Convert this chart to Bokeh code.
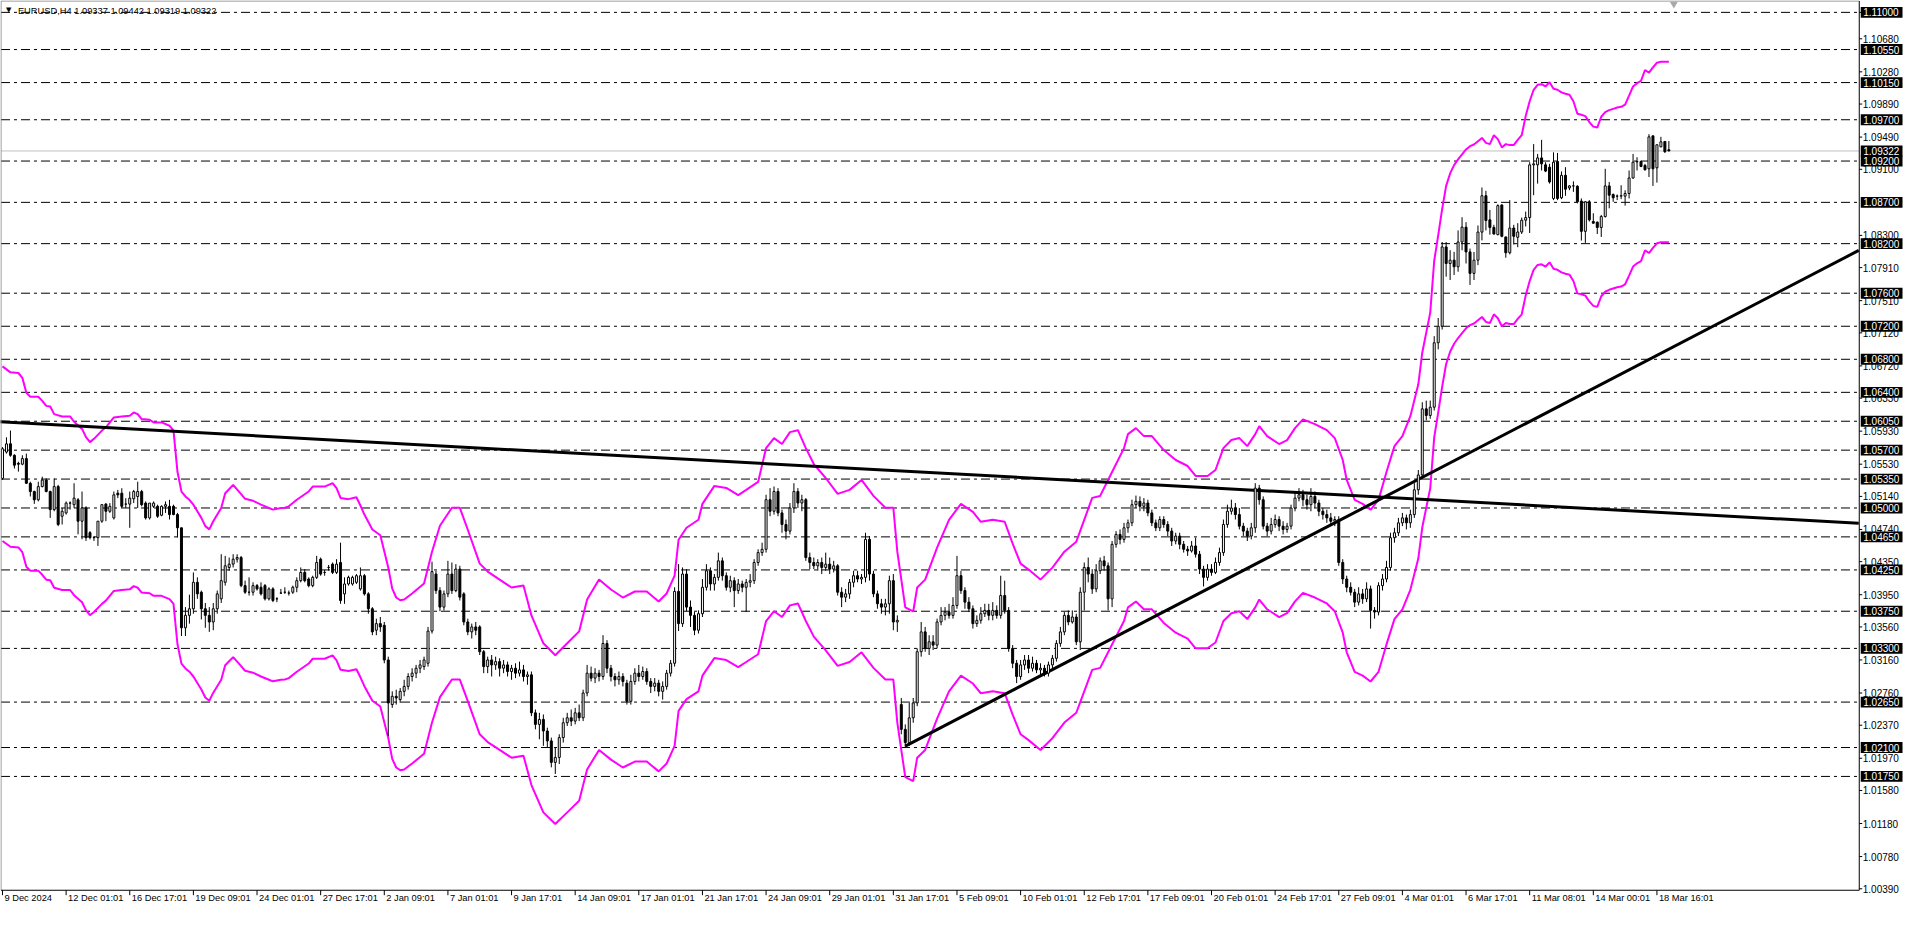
import sys
from bokeh.plotting import figure
from bokeh.models import Range1d, ColumnDataSource
from bokeh.embed import file_html
from bokeh.resources import INLINE
from bokeh.core.properties import value

# ---------------- data (EURUSD H4, one value per bar) ----------------
opens = [
    1.05358, 1.05677, 1.05777, 1.05638, 1.05540, 1.05530, 1.05598, 1.05299, 1.05199, 1.05099,
    1.05259, 1.05338, 1.05199, 1.04980, 1.05259, 1.04900, 1.04940, 1.05059, 1.05040, 1.05099,
    1.04840, 1.05000, 1.04701, 1.04641, 1.04641, 1.04840, 1.05047, 1.04960, 1.04880, 1.05179,
    1.05179, 1.05047, 1.05047, 1.05111, 1.05139, 1.05199, 1.05059, 1.04880, 1.05020, 1.05020,
    1.04912, 1.05020, 1.05020, 1.05020, 1.04920, 1.04760, 1.03550, 1.03700, 1.03780, 1.04100,
    1.03980, 1.03780, 1.03700, 1.03620, 1.03780, 1.03900, 1.04100, 1.04280, 1.04320, 1.04380,
    1.04400, 1.04060, 1.03980, 1.03980, 1.04060, 1.04040, 1.04060, 1.03900, 1.04020, 1.03900,
    1.03970, 1.03980, 1.03970, 1.03980, 1.04040, 1.04120, 1.04220, 1.04140, 1.04060, 1.04160,
    1.04380, 1.04220, 1.04280, 1.04320, 1.04220, 1.04340, 1.03960, 1.04080, 1.04080, 1.04100,
    1.04020, 1.04180, 1.03960, 1.03780, 1.03520, 1.03600, 1.03580, 1.03160, 1.02620, 1.02720,
    1.02680, 1.02780, 1.02840, 1.02960, 1.03000, 1.03060, 1.03080, 1.03120, 1.03510, 1.04200,
    1.04000, 1.03800, 1.03960, 1.04200, 1.04000, 1.04260, 1.03960, 1.03620, 1.03500, 1.03560,
    1.03560, 1.03260, 1.03080, 1.03160, 1.03100, 1.03140, 1.03060, 1.03100, 1.03020, 1.03060,
    1.03000, 1.03040, 1.02960, 1.02980, 1.02520, 1.02380, 1.02440, 1.02300, 1.02180, 1.01920,
    1.01980, 1.02220, 1.02400, 1.02460, 1.02420, 1.02520, 1.02460, 1.02760, 1.03000, 1.02940,
    1.03000, 1.02960, 1.03360, 1.03060, 1.02960, 1.02920, 1.02960, 1.02880, 1.02660, 1.02900,
    1.03000, 1.02960, 1.03020, 1.02900, 1.02840, 1.02880, 1.02780, 1.02840, 1.03000, 1.03120,
    1.03990, 1.03600, 1.04200, 1.03800, 1.03700, 1.03520, 1.03720, 1.04040, 1.04240, 1.04080,
    1.04160, 1.04360, 1.04180, 1.04040, 1.04120, 1.04000, 1.04080, 1.04040, 1.04100, 1.04120,
    1.04340, 1.04460, 1.04500, 1.05100, 1.04960, 1.05200, 1.04940, 1.04800, 1.04720, 1.05000,
    1.05200, 1.05060, 1.05100, 1.04400, 1.04340, 1.04300, 1.04340, 1.04280, 1.04320, 1.04260,
    1.04300, 1.03980, 1.03920, 1.03960, 1.04100, 1.04180, 1.04140, 1.04160, 1.04620, 1.04200,
    1.03960, 1.03840, 1.03800, 1.03840, 1.04120, 1.03620, 1.02620, 1.02320, 1.02160, 1.02460,
    1.02640, 1.03260, 1.03500, 1.03300, 1.03380, 1.03340, 1.03620, 1.03700, 1.03740, 1.03700,
    1.03820, 1.04180, 1.04000, 1.03860, 1.03780, 1.03600, 1.03640, 1.03720, 1.03760, 1.03700,
    1.03760, 1.03700, 1.03940, 1.03760, 1.03300, 1.03120, 1.02960, 1.03100, 1.03160, 1.03060,
    1.03120, 1.03040, 1.03060, 1.03000, 1.03100, 1.03180, 1.03360, 1.03500, 1.03700, 1.03620,
    1.03680, 1.03380, 1.03980, 1.04280, 1.04200, 1.04020, 1.04240, 1.04360, 1.04300, 1.03900,
    1.04560, 1.04680, 1.04620, 1.04760, 1.04820, 1.05040, 1.05080, 1.05020, 1.05060, 1.04940,
    1.04820, 1.04760, 1.04860, 1.04800, 1.04720, 1.04600, 1.04660, 1.04560, 1.04500, 1.04480,
    1.04540, 1.04440, 1.04260, 1.04160, 1.04260, 1.04220, 1.04340, 1.04460, 1.04800, 1.04960,
    1.05000, 1.04920, 1.04780, 1.04720, 1.04660, 1.04760, 1.05240, 1.05100, 1.04780, 1.04720,
    1.04800, 1.04860, 1.04780, 1.04740, 1.04780, 1.05000, 1.05120, 1.05160, 1.05100, 1.05040,
    1.05140, 1.05060, 1.04960, 1.04920, 1.04880, 1.04840, 1.04860, 1.04340, 1.04140, 1.04040,
    1.03980, 1.03860, 1.03960, 1.03900, 1.04020, 1.03760, 1.03740, 1.04060, 1.04140, 1.04280,
    1.04640, 1.04700, 1.04820, 1.04880, 1.04820, 1.04920, 1.05220, 1.05400, 1.06200, 1.06120,
    1.06220, 1.07000, 1.07200, 1.08160, 1.07960, 1.08000, 1.07920, 1.08220, 1.08400, 1.08100,
    1.07840, 1.08000, 1.08340, 1.08780,
    1.08488, 1.08396, 1.08309, 1.08668, 1.08281, 1.08090, 1.08388, 1.08277, 1.08341, 1.08484,
    1.08516, 1.09154, 1.09154, 1.09238, 1.09154, 1.09126, 1.08747, 1.09194, 1.08755, 1.09027,
    1.08875, 1.08899, 1.08895, 1.08715, 1.08349, 1.08707, 1.08468, 1.08460, 1.08396, 1.08528,
    1.08899, 1.08795, 1.08775, 1.08775, 1.08775, 1.08807, 1.08995, 1.09190, 1.09194, 1.09146,
    1.09106, 1.09505, 1.09118, 1.09373, 1.09437, 1.09337]
highs = [
    1.05737, 1.05856, 1.05937, 1.05650, 1.05560, 1.05638, 1.05658, 1.05318, 1.05210, 1.05318,
    1.05379, 1.05358, 1.05210, 1.05358, 1.05280, 1.05000, 1.05079, 1.05079, 1.05299, 1.05119,
    1.05199, 1.05020, 1.04720, 1.04661, 1.04840, 1.05040, 1.05059, 1.05059, 1.05199, 1.05219,
    1.05239, 1.05119, 1.05199, 1.05219, 1.05318, 1.05219, 1.05079, 1.05059, 1.05079, 1.05040,
    1.05032, 1.05079, 1.05099, 1.05040, 1.04940, 1.04760, 1.03800, 1.03950, 1.04220, 1.04160,
    1.04000, 1.03850, 1.03800, 1.03850, 1.04000, 1.04440, 1.04420, 1.04400, 1.04440, 1.04440,
    1.04420, 1.04120, 1.04160, 1.04100, 1.04080, 1.04100, 1.04080, 1.04040, 1.04040, 1.03920,
    1.04020, 1.04040, 1.04000, 1.04060, 1.04160, 1.04280, 1.04260, 1.04160, 1.04180, 1.04420,
    1.04400, 1.04250, 1.04310, 1.04340, 1.04380, 1.04580, 1.04160, 1.04180, 1.04180, 1.04200,
    1.04280, 1.04200, 1.03980, 1.03800, 1.03660, 1.03680, 1.03620, 1.03200, 1.02780, 1.02800,
    1.02820, 1.02920, 1.03000, 1.03060, 1.03100, 1.03160, 1.03200, 1.03560, 1.04350, 1.04240,
    1.04040, 1.04000, 1.04360, 1.04340, 1.04320, 1.04300, 1.03980, 1.03660, 1.03600, 1.03620,
    1.03580, 1.03280, 1.03200, 1.03220, 1.03200, 1.03180, 1.03160, 1.03140, 1.03100, 1.03120,
    1.03140, 1.03100, 1.03020, 1.03020, 1.02560, 1.02520, 1.02500, 1.02340, 1.02220, 1.02100,
    1.02260, 1.02460, 1.02520, 1.02560, 1.02580, 1.02620, 1.02800, 1.03100, 1.03080, 1.03060,
    1.03040, 1.03460, 1.03400, 1.03100, 1.03000, 1.03020, 1.03000, 1.02920, 1.02980, 1.03060,
    1.03100, 1.03080, 1.03060, 1.02940, 1.02940, 1.02920, 1.02900, 1.03040, 1.03160, 1.04040,
    1.04320, 1.04280, 1.04260, 1.03880, 1.03740, 1.03760, 1.04140, 1.04320, 1.04280, 1.04200,
    1.04460, 1.04400, 1.04220, 1.04180, 1.04160, 1.04140, 1.04120, 1.04140, 1.04200, 1.04380,
    1.04500, 1.04580, 1.05160, 1.05240, 1.05260, 1.05240, 1.04980, 1.04860, 1.05060, 1.05300,
    1.05240, 1.05160, 1.05120, 1.04460, 1.04400, 1.04380, 1.04400, 1.04460, 1.04400, 1.04360,
    1.04320, 1.04040, 1.04020, 1.04140, 1.04240, 1.04240, 1.04200, 1.04700, 1.04660, 1.04240,
    1.04000, 1.03900, 1.03900, 1.04180, 1.04200, 1.03700, 1.02700, 1.02380, 1.02640, 1.02700,
    1.03300, 1.03620, 1.03560, 1.03460, 1.03460, 1.03660, 1.03800, 1.03800, 1.03840, 1.03920,
    1.04420, 1.04240, 1.04040, 1.03920, 1.03820, 1.03700, 1.03800, 1.03840, 1.03840, 1.03860,
    1.03820, 1.04180, 1.04120, 1.03800, 1.03340, 1.03160, 1.03160, 1.03220, 1.03220, 1.03200,
    1.03160, 1.03120, 1.03100, 1.03140, 1.03220, 1.03400, 1.03560, 1.03740, 1.03760, 1.03760,
    1.03720, 1.04040, 1.04340, 1.04400, 1.04260, 1.04320, 1.04400, 1.04420, 1.04340, 1.04600,
    1.04720, 1.04740, 1.04820, 1.04860, 1.05100, 1.05150, 1.05140, 1.05120, 1.05100, 1.04980,
    1.04860, 1.04900, 1.04900, 1.04840, 1.04760, 1.04700, 1.04700, 1.04600, 1.04540, 1.04600,
    1.04640, 1.04480, 1.04300, 1.04320, 1.04320, 1.04400, 1.04520, 1.04860, 1.05040, 1.05100,
    1.05060, 1.05000, 1.04820, 1.04760, 1.04820, 1.05300, 1.05280, 1.05140, 1.04820, 1.04880,
    1.04920, 1.04900, 1.04840, 1.04820, 1.05040, 1.05180, 1.05240, 1.05220, 1.05160, 1.05240,
    1.05200, 1.05100, 1.05000, 1.04980, 1.04940, 1.04900, 1.04900, 1.04380, 1.04180, 1.04100,
    1.04020, 1.04040, 1.04020, 1.04100, 1.04060, 1.03800, 1.04100, 1.04200, 1.04360, 1.04700,
    1.04760, 1.04880, 1.04940, 1.04920, 1.04980, 1.05300, 1.05460, 1.06280, 1.06300, 1.06300,
    1.07080, 1.07300, 1.08220, 1.08220, 1.08120, 1.08100, 1.08360, 1.08520, 1.08460, 1.08140,
    1.08100, 1.08420, 1.08880, 1.08840,
    1.08608, 1.08428, 1.08676, 1.08676, 1.08285, 1.08727, 1.08428, 1.08448, 1.08516, 1.08588,
    1.09186, 1.09405, 1.09286, 1.09457, 1.09186, 1.09166, 1.09306, 1.09298, 1.09074, 1.09126,
    1.08907, 1.08955, 1.08907, 1.08747, 1.08715, 1.08727, 1.08568, 1.08468, 1.08548, 1.09106,
    1.08947, 1.08807, 1.08795, 1.08907, 1.08847, 1.09086, 1.09286, 1.09246, 1.09206, 1.09166,
    1.09525, 1.09505, 1.09397, 1.09493, 1.09437, 1.09442]
lows = [
    1.05340, 1.05658, 1.05620, 1.05478, 1.05440, 1.05518, 1.05290, 1.05139, 1.05050, 1.05080,
    1.05250, 1.05190, 1.04880, 1.04960, 1.04780, 1.04800, 1.04920, 1.04980, 1.05000, 1.04681,
    1.04621, 1.04601, 1.04620, 1.04601, 1.04541, 1.04820, 1.04840, 1.04940, 1.04860, 1.05119,
    1.05000, 1.05000, 1.04760, 1.05059, 1.05000, 1.05020, 1.04860, 1.04860, 1.05000, 1.04880,
    1.04900, 1.04940, 1.04860, 1.04912, 1.04641, 1.03450, 1.03450, 1.03600, 1.03720, 1.03900,
    1.03650, 1.03550, 1.03500, 1.03520, 1.03720, 1.03850, 1.04060, 1.04240, 1.04280, 1.04340,
    1.04040, 1.03960, 1.03940, 1.03940, 1.04000, 1.03940, 1.03880, 1.03880, 1.03860, 1.03860,
    1.03960, 1.03960, 1.03940, 1.03960, 1.03980, 1.04100, 1.04100, 1.04040, 1.04040, 1.04140,
    1.04180, 1.04180, 1.04240, 1.04200, 1.04200, 1.03840, 1.03840, 1.04060, 1.04060, 1.04080,
    1.04000, 1.03940, 1.03720, 1.03460, 1.03460, 1.03500, 1.03120, 1.02240, 1.02580, 1.02620,
    1.02640, 1.02720, 1.02800, 1.02900, 1.02940, 1.03000, 1.03040, 1.03080, 1.03480, 1.03960,
    1.03750, 1.03760, 1.03920, 1.03960, 1.03980, 1.03880, 1.03580, 1.03460, 1.03420, 1.03460,
    1.03220, 1.03000, 1.03000, 1.02960, 1.03040, 1.02960, 1.03000, 1.02960, 1.02920, 1.02940,
    1.02960, 1.02900, 1.02860, 1.02480, 1.02320, 1.02200, 1.02120, 1.02100, 1.01860, 1.01780,
    1.01900, 1.02160, 1.02360, 1.02360, 1.02380, 1.02420, 1.02420, 1.02720, 1.02900, 1.02880,
    1.02900, 1.02920, 1.03000, 1.02900, 1.02840, 1.02860, 1.02840, 1.02620, 1.02620, 1.02860,
    1.02900, 1.02920, 1.02860, 1.02760, 1.02780, 1.02720, 1.02680, 1.02800, 1.02960, 1.03080,
    1.03510, 1.03560, 1.03750, 1.03560, 1.03460, 1.03480, 1.03680, 1.04000, 1.04000, 1.04000,
    1.04120, 1.04120, 1.04000, 1.03980, 1.03800, 1.03960, 1.03980, 1.03740, 1.04040, 1.04080,
    1.04300, 1.04420, 1.04460, 1.04900, 1.04920, 1.04900, 1.04700, 1.04620, 1.04680, 1.04940,
    1.05000, 1.04960, 1.04360, 1.04260, 1.04260, 1.04240, 1.04200, 1.04240, 1.04200, 1.04220,
    1.03940, 1.03800, 1.03860, 1.03900, 1.04040, 1.04100, 1.04080, 1.04100, 1.04120, 1.03920,
    1.03780, 1.03720, 1.03700, 1.03720, 1.03520, 1.03500, 1.02260, 1.02100, 1.02120, 1.02400,
    1.02600, 1.03200, 1.03260, 1.03220, 1.03280, 1.03300, 1.03580, 1.03640, 1.03660, 1.03660,
    1.03780, 1.03960, 1.03780, 1.03740, 1.03540, 1.03560, 1.03600, 1.03680, 1.03640, 1.03640,
    1.03660, 1.03660, 1.03720, 1.03260, 1.03060, 1.02880, 1.02920, 1.03040, 1.03000, 1.03020,
    1.03000, 1.02980, 1.02960, 1.02960, 1.03060, 1.03140, 1.03320, 1.03460, 1.03580, 1.03600,
    1.03340, 1.03280, 1.03760, 1.04100, 1.03960, 1.03980, 1.04200, 1.04240, 1.03760, 1.03800,
    1.04520, 1.04560, 1.04580, 1.04700, 1.04780, 1.05000, 1.04960, 1.04960, 1.04900, 1.04780,
    1.04720, 1.04720, 1.04760, 1.04660, 1.04540, 1.04560, 1.04500, 1.04460, 1.04420, 1.04460,
    1.04400, 1.04200, 1.04050, 1.04120, 1.04180, 1.04200, 1.04300, 1.04420, 1.04760, 1.04920,
    1.04860, 1.04740, 1.04660, 1.04600, 1.04620, 1.04700, 1.05040, 1.04740, 1.04660, 1.04680,
    1.04760, 1.04720, 1.04680, 1.04700, 1.04740, 1.04960, 1.05080, 1.05020, 1.04980, 1.04960,
    1.05000, 1.04900, 1.04860, 1.04820, 1.04780, 1.04780, 1.04300, 1.04080, 1.03980, 1.03940,
    1.03800, 1.03820, 1.03840, 1.03860, 1.03540, 1.03660, 1.03700, 1.04000, 1.04100, 1.04240,
    1.04580, 1.04660, 1.04780, 1.04740, 1.04760, 1.04880, 1.05160, 1.05360, 1.06060, 1.06080,
    1.06180, 1.06920, 1.07160, 1.07800, 1.07760, 1.07820, 1.07860, 1.08120, 1.07960, 1.07700,
    1.07760, 1.07940, 1.08240, 1.08360,
    1.08309, 1.08309, 1.08301, 1.08277, 1.08030, 1.08070, 1.08189, 1.08157, 1.08317, 1.08408,
    1.08329, 1.08787, 1.08927, 1.09086, 1.09066, 1.08927, 1.08727, 1.08727, 1.08739, 1.08779,
    1.08847, 1.08827, 1.08687, 1.08237, 1.08209, 1.08468, 1.08440, 1.08317, 1.08281, 1.08516,
    1.08628, 1.08707, 1.08727, 1.08739, 1.08660, 1.08747, 1.08987, 1.09086, 1.09126, 1.09086,
    1.09007, 1.08899, 1.08939, 1.09365, 1.09298, 1.09319]
closes = [
    1.05717, 1.05776, 1.05638, 1.05518, 1.05530, 1.05598, 1.05299, 1.05199, 1.05099, 1.05259,
    1.05338, 1.05199, 1.04980, 1.05259, 1.04800, 1.04960, 1.05059, 1.05060, 1.05119, 1.04840,
    1.05000, 1.04641, 1.04641, 1.04641, 1.04840, 1.05040, 1.04960, 1.05020, 1.05159, 1.05159,
    1.05020, 1.05047, 1.05119, 1.05199, 1.05199, 1.05040, 1.04880, 1.05059, 1.05059, 1.04900,
    1.05020, 1.05040, 1.04920, 1.04920, 1.04760, 1.03550, 1.03700, 1.03780, 1.04100, 1.03960,
    1.03780, 1.03700, 1.03620, 1.03780, 1.03960, 1.04120, 1.04300, 1.04320, 1.04380, 1.04400,
    1.04060, 1.03980, 1.03980, 1.04060, 1.04020, 1.03960, 1.03900, 1.04020, 1.03880, 1.03900,
    1.03970, 1.03980, 1.03970, 1.04040, 1.04120, 1.04220, 1.04120, 1.04060, 1.04160, 1.04340,
    1.04200, 1.04220, 1.04280, 1.04220, 1.04320, 1.03880, 1.04080, 1.04160, 1.04160, 1.04180,
    1.04180, 1.03960, 1.03780, 1.03500, 1.03600, 1.03560, 1.03160, 1.02640, 1.02720, 1.02700,
    1.02780, 1.02840, 1.02960, 1.03000, 1.03060, 1.03100, 1.03160, 1.03510, 1.04230, 1.04000,
    1.03800, 1.03960, 1.04200, 1.04000, 1.04260, 1.03920, 1.03620, 1.03500, 1.03560, 1.03520,
    1.03260, 1.03080, 1.03160, 1.03100, 1.03140, 1.03060, 1.03100, 1.03020, 1.03060, 1.03000,
    1.03040, 1.02960, 1.02980, 1.02520, 1.02380, 1.02440, 1.02300, 1.02180, 1.01920, 1.01980,
    1.02220, 1.02400, 1.02460, 1.02420, 1.02520, 1.02460, 1.02760, 1.03000, 1.02940, 1.03000,
    1.02960, 1.03360, 1.03060, 1.02960, 1.02920, 1.02960, 1.02900, 1.02660, 1.02900, 1.03000,
    1.02960, 1.03020, 1.02900, 1.02840, 1.02880, 1.02780, 1.02840, 1.03000, 1.03120, 1.03990,
    1.03600, 1.04200, 1.03800, 1.03700, 1.03520, 1.03720, 1.04040, 1.04240, 1.04080, 1.04160,
    1.04360, 1.04180, 1.04040, 1.04120, 1.04000, 1.04080, 1.04040, 1.04100, 1.04120, 1.04340,
    1.04460, 1.04500, 1.05100, 1.04960, 1.05200, 1.04940, 1.04800, 1.04720, 1.05000, 1.05200,
    1.05060, 1.05100, 1.04400, 1.04340, 1.04300, 1.04340, 1.04280, 1.04320, 1.04260, 1.04300,
    1.03980, 1.03920, 1.03960, 1.04100, 1.04180, 1.04140, 1.04160, 1.04620, 1.04200, 1.03960,
    1.03840, 1.03800, 1.03840, 1.04120, 1.03620, 1.03640, 1.02320, 1.02160, 1.02460, 1.02640,
    1.03260, 1.03500, 1.03300, 1.03380, 1.03340, 1.03620, 1.03700, 1.03740, 1.03700, 1.03820,
    1.04180, 1.04000, 1.03860, 1.03780, 1.03600, 1.03640, 1.03720, 1.03760, 1.03700, 1.03760,
    1.03700, 1.03940, 1.03760, 1.03300, 1.03120, 1.02960, 1.03100, 1.03160, 1.03060, 1.03120,
    1.03040, 1.03060, 1.03000, 1.03100, 1.03180, 1.03360, 1.03500, 1.03700, 1.03620, 1.03680,
    1.03380, 1.03980, 1.04280, 1.04200, 1.04020, 1.04240, 1.04360, 1.04300, 1.03900, 1.04560,
    1.04680, 1.04620, 1.04760, 1.04820, 1.05040, 1.05080, 1.05020, 1.05060, 1.04940, 1.04820,
    1.04760, 1.04860, 1.04800, 1.04720, 1.04600, 1.04660, 1.04560, 1.04500, 1.04480, 1.04540,
    1.04440, 1.04260, 1.04160, 1.04260, 1.04220, 1.04340, 1.04460, 1.04800, 1.04960, 1.05000,
    1.04920, 1.04780, 1.04720, 1.04660, 1.04760, 1.05240, 1.05100, 1.04780, 1.04720, 1.04800,
    1.04860, 1.04780, 1.04740, 1.04780, 1.05000, 1.05120, 1.05160, 1.05100, 1.05040, 1.05140,
    1.05060, 1.04960, 1.04920, 1.04880, 1.04840, 1.04860, 1.04340, 1.04140, 1.04040, 1.03980,
    1.03860, 1.03960, 1.03900, 1.04020, 1.03760, 1.03740, 1.04060, 1.04140, 1.04280, 1.04640,
    1.04700, 1.04820, 1.04880, 1.04820, 1.04920, 1.05220, 1.05400, 1.06200, 1.06120, 1.06220,
    1.07000, 1.07200, 1.08160, 1.07960, 1.08000, 1.07920, 1.08220, 1.08400, 1.08100, 1.07840,
    1.08000, 1.08340, 1.08780, 1.08480,
    1.08396, 1.08317, 1.08660, 1.08289, 1.08090, 1.08388, 1.08289, 1.08341, 1.08484, 1.08516,
    1.09154, 1.09166, 1.09238, 1.09166, 1.09078, 1.08947, 1.09186, 1.08747, 1.09027, 1.08859,
    1.08899, 1.08899, 1.08707, 1.08349, 1.08707, 1.08488, 1.08448, 1.08396, 1.08528, 1.08899,
    1.08787, 1.08755, 1.08775, 1.08780, 1.08807, 1.08995, 1.09186, 1.09194, 1.09134, 1.09094,
    1.09493, 1.09106, 1.09397, 1.09433, 1.09313, 1.09322]

# Envelopes (+/-1 %): upper line read at these bars
env_bars = [0, 2, 4, 5, 6, 7, 9, 10, 11, 12, 13, 15, 17, 18, 20, 21, 22, 23, 25, 26,
            28, 30, 32, 33, 34, 35, 37, 38, 40, 42, 43, 44, 45, 46, 47, 48, 50, 51, 52, 53,
            55, 56, 58, 60, 61, 63, 65, 67, 68, 70, 71, 72, 74, 77, 78, 81, 83, 84, 85, 87,
            89, 90, 91, 93, 95, 97, 98, 99, 100, 101, 103, 106, 108, 110, 113, 115, 117, 120, 122, 125,
            128, 131, 133, 136, 139, 142, 145, 147, 150, 153, 156, 159, 162, 165, 167, 169, 170, 172, 175, 176,
            179, 182, 185, 187, 190, 192, 194, 196, 198, 200, 202, 204, 207, 210, 213, 216, 219, 222, 224, 225,
            227, 229, 230, 232, 235, 238, 241, 244, 246, 249, 252, 254, 256, 258, 261, 264, 267, 270, 272, 274,
            276, 279, 282, 283, 285, 287, 289, 292, 295, 298, 300, 303, 305, 307, 309, 311, 313, 315, 316, 318,
            321, 323, 325, 327, 330, 333, 335, 337, 338, 340, 342, 344, 346, 348, 350, 352, 354, 356, 357, 359,
            360, 361, 362, 363, 364, 365, 366, 367, 368, 369, 370, 371, 372, 373,
            374, 375, 376, 377, 378, 379, 380, 381, 382, 383, 384, 385, 386, 387, 388, 389, 390, 391, 392, 393,
            394, 395, 396, 397, 398, 399, 400, 401, 402, 403, 404, 405, 406, 407, 408, 409, 410, 411, 412, 413,
            414, 415, 416, 417, 418, 419]
env_upper = [1.06714, 1.06642, 1.06634, 1.06575, 1.06395, 1.06347, 1.06347, 1.06296, 1.06236, 1.06228,
             1.06136, 1.06108, 1.06108, 1.06044, 1.05957, 1.05857, 1.05797, 1.05837, 1.05937, 1.05977,
             1.06096, 1.06108, 1.06116, 1.06156, 1.06136, 1.06076, 1.06068, 1.06036, 1.06036, 1.05996,
             1.05937, 1.05438, 1.05199, 1.05139, 1.05099, 1.05040, 1.04880, 1.04780, 1.04741, 1.04840,
             1.05000, 1.05179, 1.05279, 1.05167, 1.05111, 1.05087, 1.05040, 1.05000, 1.04980, 1.05000,
             1.05002, 1.05020, 1.05099, 1.05200, 1.05259, 1.05259, 1.05300, 1.05239, 1.05122, 1.05107,
             1.05130, 1.05030, 1.04920, 1.04740, 1.04670, 1.04280, 1.04023, 1.03916, 1.03883, 1.03892,
             1.03965, 1.04085, 1.04471, 1.04785, 1.05002, 1.05002, 1.04736, 1.04326, 1.04230, 1.04133,
             1.04037, 1.04061, 1.03699, 1.03362, 1.03218, 1.03362, 1.03506, 1.03892, 1.04133, 1.04013,
             1.03916, 1.03989, 1.03989, 1.03868, 1.03965, 1.04182, 1.04616, 1.04761, 1.04857, 1.05050,
             1.05267, 1.05243, 1.05156, 1.05219, 1.05315, 1.05725, 1.05846, 1.05774, 1.05918, 1.05942,
             1.05725, 1.05532, 1.05363, 1.05171, 1.05219, 1.05339, 1.05146, 1.05002, 1.05002, 1.04471,
             1.03796, 1.03747, 1.04037, 1.04133, 1.04519, 1.04857, 1.05050, 1.04953, 1.04833, 1.04857,
             1.04833, 1.04568, 1.04326, 1.04254, 1.04133, 1.04278, 1.04471, 1.04592, 1.04857, 1.05122,
             1.05146, 1.05436, 1.05725, 1.05894, 1.05967, 1.05870, 1.05870, 1.05701, 1.05581, 1.05508,
             1.05388, 1.05388, 1.05460, 1.05725, 1.05822, 1.05846, 1.05749, 1.05894, 1.05990, 1.05870,
             1.05774, 1.05822, 1.05967, 1.06073, 1.06015, 1.05942, 1.05846, 1.05581, 1.05339, 1.05098,
             1.05050, 1.04978, 1.05098, 1.05436, 1.05749, 1.05870, 1.06111, 1.06497, 1.06883, 1.07365,
             1.07993, 1.08300, 1.08620, 1.08900, 1.09050, 1.09150, 1.09220, 1.09280, 1.09340, 1.09380,
             1.09400, 1.09440, 1.09480, 1.09420,
             1.09405, 1.09513, 1.09465, 1.09365, 1.09405, 1.09393, 1.09393, 1.09457, 1.09513, 1.09744,
             1.09924, 1.10063, 1.10123, 1.10131, 1.10103, 1.10155, 1.10075, 1.10063, 1.10031, 1.10015,
             1.10003, 1.09924, 1.09772, 1.09760, 1.09744, 1.09672, 1.09617, 1.09605, 1.09736, 1.09792,
             1.09816, 1.09832, 1.09848, 1.09856, 1.09884, 1.09991, 1.10103, 1.10143, 1.10171, 1.10302,
             1.10270, 1.10334, 1.10390, 1.10402, 1.10402, 1.10402]
env_pct = 0.01

# trend lines (bar index, price)
trend_down_x = [-1.25, 466.75]
trend_down_y = [1.06045, 1.04815]
trend_up_x = [227.0, 466.75]
trend_up_y = [1.02117, 1.08118]

levels = [1.1100, 1.1055, 1.1015, 1.0970, 1.0920, 1.0870, 1.0820, 1.0760, 1.0720, 1.0680, 1.0640,
          1.0605, 1.0570, 1.0535, 1.0500, 1.0465, 1.0425, 1.0375, 1.0330, 1.0265, 1.0210, 1.0175]
last_price = 1.09322

price_ticks = [1.11000, 1.10680, 1.10280, 1.09890, 1.09490, 1.09100, 1.08300, 1.07910, 1.07510,
               1.07120, 1.06720, 1.06330, 1.05930, 1.05530, 1.05140, 1.04740, 1.04350, 1.03950,
               1.03560, 1.03160, 1.02760, 1.02370, 1.01970, 1.01580, 1.01180, 1.00780, 1.00390]

date_tick_bars = list(range(0, 417, 16))
date_labels = ["9 Dec 2024", "12 Dec 01:01", "16 Dec 17:01", "19 Dec 09:01", "24 Dec 01:01",
               "27 Dec 17:01", "2 Jan 09:01", "7 Jan 01:01", "9 Jan 17:01", "14 Jan 09:01",
               "17 Jan 01:01", "21 Jan 17:01", "24 Jan 09:01", "29 Jan 01:01", "31 Jan 17:01",
               "5 Feb 09:01", "10 Feb 01:01", "12 Feb 17:01", "17 Feb 09:01", "20 Feb 01:01",
               "24 Feb 17:01", "27 Feb 09:01", "4 Mar 01:01", "6 Mar 17:01", "11 Mar 08:01",
               "14 Mar 00:01", "18 Mar 16:01"]

title_text = "EURUSD,H4  1.09337 1.09442 1.09319 1.09322"
shift_marker_bar = 420.25

# ---------------- layout helpers (screen layout of the MT4 window) ----------------
def bx(px):          # horizontal window pixel -> bar coordinate
    return (px - 5.0) / 4.0

def py(px):          # vertical window pixel -> price coordinate
    return 1.0039 + (902.0 - px) / 8360.0

X0, X1 = bx(3), bx(1918)
Y0, Y1 = py(925), py(3)
CH_L, CH_R = bx(3.5), bx(1872.5)     # chart area edges
CH_T, CH_B = py(3.5), py(903.5)

FONT = value("Liberation Sans")
FS_PRICE = value("10px")
FS_TIME = value("9.3px")

p = figure(width=1904, height=911, output_backend="svg", toolbar_location=None,
           x_range=Range1d(X0, X1), y_range=Range1d(Y0, Y1),
           x_axis_type=None, y_axis_type=None,
           min_border_left=0, min_border_right=0, min_border_top=0, min_border_bottom=0)
p.xgrid.visible = False
p.ygrid.visible = False
p.outline_line_color = None
p.background_fill_color = "white"
p.border_fill_color = "white"

# horizontal levels and the current price line
p.segment(x0=[CH_L] * len(levels), x1=[CH_R] * len(levels), y0=levels, y1=levels,
          line_color="black", line_width=1, line_dash="9 4 3 4")
p.segment(x0=[CH_L], x1=[CH_R], y0=[last_price], y1=[last_price], line_color="#C0C0C0", line_width=1)

# envelopes
mid = [u / (1 + env_pct) for u in env_upper]
env_lower = [m * (1 - env_pct) for m in mid]
p.line(env_bars, env_upper, line_color="#FF00FF", line_width=2)
p.line(env_bars, env_lower, line_color="#FF00FF", line_width=2)

# trend lines
p.line(trend_down_x, trend_down_y, line_color="black", line_width=3)
p.line(trend_up_x, trend_up_y, line_color="black", line_width=3)

# candles
n = min(len(opens), len(highs), len(lows), len(closes))
if n != max(len(opens), len(highs), len(lows), len(closes)):
    print("length mismatch", len(opens), len(highs), len(lows), len(closes), file=sys.stderr)
o_, h_, l_, c_ = opens[:n], highs[:n], lows[:n], closes[:n]
src = ColumnDataSource(dict(x=list(range(n)), h=h_, l=l_,
                            top=[max(o, c) for o, c in zip(o_, c_)],
                            bot=[min(o, c) for o, c in zip(o_, c_)],
                            fill=["white" if c >= o else "black" for o, c in zip(o_, c_)]))
p.segment(x0="x", y0="h", x1="x", y1="l", source=src, line_color="black", line_width=1)
p.vbar(x="x", top="top", bottom="bot", width=0.5, source=src, fill_color="fill",
       line_color="black", line_width=1)

# clean the area right of / below the chart (axis panels) and draw frame
p.quad(left=[CH_R], right=[X1], bottom=[Y0], top=[Y1], fill_color="white", line_color=None)
p.quad(left=[X0], right=[X1], bottom=[Y0], top=[CH_B], fill_color="white", line_color=None)
p.segment(x0=[CH_L, CH_L], y0=[CH_B, CH_T], x1=[CH_L, CH_R], y1=[CH_T, CH_T],
          line_color="#808080", line_width=1)
p.segment(x0=[CH_R, CH_L], y0=[CH_T, CH_B], x1=[CH_R, CH_R], y1=[CH_B, CH_B],
          line_color="black", line_width=1)

# right price scale: ticks + labels
tick_len = bx(1875.5) - bx(1872.5)
p.segment(x0=[CH_R] * len(price_ticks), x1=[CH_R + tick_len] * len(price_ticks),
          y0=price_ticks, y1=price_ticks, line_color="black", line_width=1)
p.text(x=[bx(1876)] * len(price_ticks), y=price_ticks,
       text=[f"{t:.5f}" for t in price_ticks], text_align="left", text_baseline="middle",
       text_color="black", text_font=FONT, text_font_size=FS_PRICE)

# black price boxes for levels + current price
box_prices = levels + [last_price]
half_h = 5.5 / 8360.0
p.quad(left=[bx(1874)] * len(box_prices), right=[bx(1916)] * len(box_prices),
       bottom=[v - half_h for v in box_prices], top=[v + half_h for v in box_prices],
       fill_color="black", line_color=None)
p.text(x=[bx(1876.5)] * len(box_prices), y=box_prices,
       text=[f"{v:.5f}" for v in box_prices], text_align="left", text_baseline="middle",
       text_color="white", text_font=FONT, text_font_size=FS_PRICE)

# bottom time scale: ticks + labels
p.segment(x0=date_tick_bars, x1=date_tick_bars, y0=[CH_B] * len(date_tick_bars),
          y1=[py(908.5)] * len(date_tick_bars), line_color="black", line_width=1)
p.text(x=[b + 0.5 for b in date_tick_bars], y=[py(906.5)] * len(date_tick_bars),
       text=date_labels, text_align="left", text_baseline="top",
       text_color="black", text_font=FONT, text_font_size=FS_TIME)

# title and chart-shift marker
p.text(x=[bx(8.5)], y=[py(12.8)], text=["\u25BC"], text_align="left", text_baseline="middle",
       text_color="black", text_font=value("DejaVu Sans"), text_font_size=value("7px"))
p.text(x=[bx(20.5)], y=[py(13.3)], text=[title_text], text_align="left", text_baseline="middle",
       text_color="black", text_font=FONT, text_font_size=FS_TIME)
p.scatter(x=[shift_marker_bar], y=[py(6.5)], marker="inverted_triangle", size=8,
          fill_color="#A8A8A8", line_color=None)

open("out.html", "w").write(file_html(p, INLINE))
